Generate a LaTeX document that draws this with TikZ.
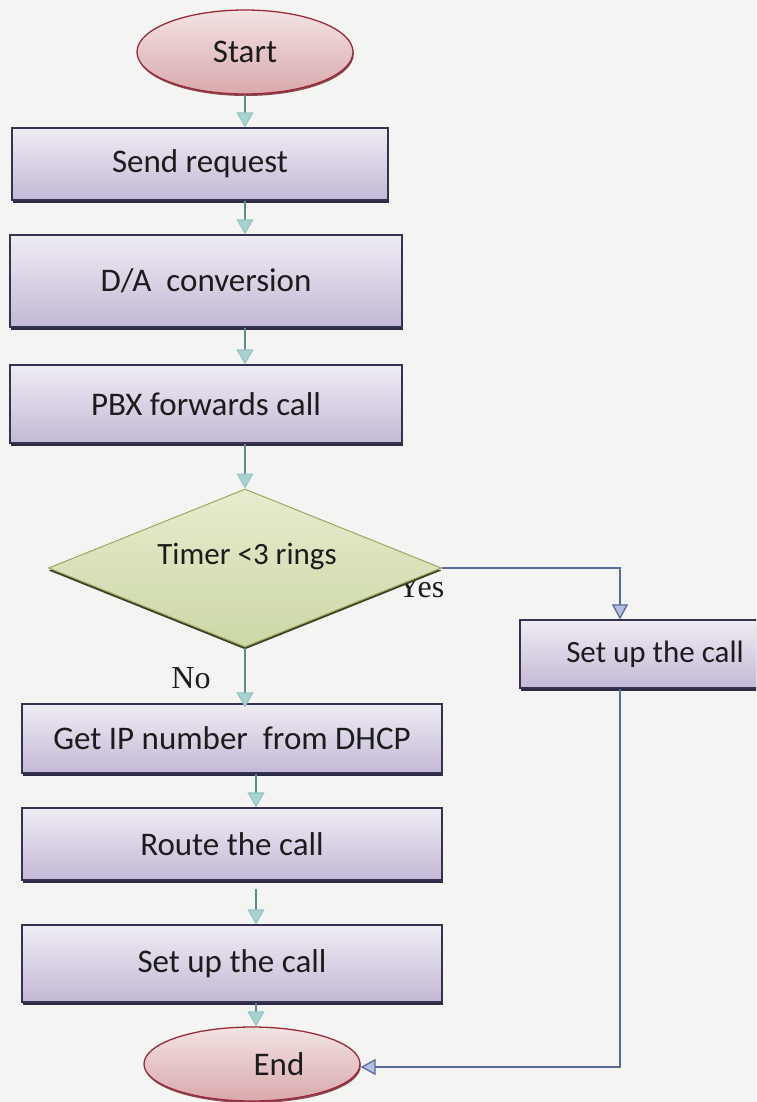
\documentclass[tikz,border=0pt]{standalone}
\usepackage{fontspec}
\setmainfont{Carlito}
\newfontfamily\labelserif{Liberation Serif}
\usetikzlibrary{shapes.geometric,arrows.meta,shadows,calc}

\definecolor{paper}{HTML}{F4F4F2}
\definecolor{ink}{HTML}{1C1C1C}
\definecolor{boxline}{HTML}{34324E}
\definecolor{boxtop}{HTML}{EFECF3}
\definecolor{boxbot}{HTML}{C4B8D6}
\definecolor{boxshadow}{HTML}{2E2A44}
\definecolor{ovaltop}{HTML}{F3E3E3}
\definecolor{ovalbot}{HTML}{D9A9AD}
\definecolor{ovalline}{HTML}{9A2A3A}
\definecolor{dectop}{HTML}{E6ECCE}
\definecolor{decbot}{HTML}{CCD7A6}
\definecolor{decline}{HTML}{9AA860}
\definecolor{decshadow}{HTML}{3C4024}
\definecolor{flowline}{HTML}{5E8A8E}
\definecolor{flowhead}{HTML}{A8D2D2}
\definecolor{branchline}{HTML}{5A6A9A}
\definecolor{branchhead}{HTML}{B4C0E2}

\tikzset{
  basefont/.style={font=\fontsize{33}{38}\selectfont, text=ink},
  stepbox/.style={rectangle, inner sep=0pt, draw=boxline, line width=1.2pt,
    top color=boxtop, bottom color=boxbot,
    drop shadow={shadow xshift=1.2pt, shadow yshift=-2.5pt, fill=boxshadow, opacity=1},
    basefont},
  terminal/.style={ellipse, inner sep=0pt, draw=ovalline, line width=1.3pt,
    top color=ovaltop, bottom color=ovalbot,
    drop shadow={shadow xshift=0.8pt, shadow yshift=-2pt, fill=ovalline!70!black, opacity=0.8},
    basefont},
  decision/.style={diamond, inner sep=0pt, draw=decline, line width=1pt,
    top color=dectop, bottom color=decbot,
    drop shadow={shadow xshift=0pt, shadow yshift=-2.5pt, fill=decshadow, opacity=1}},
  flow/.style={draw=flowline, line width=1.1pt,
    -{Triangle[width=17pt,length=15pt,fill=flowhead,color=flowhead!80!flowline]}},
  branch/.style={draw=branchline, line width=1.3pt,
    -{Triangle[width=16pt,length=15pt,fill=branchhead,color=branchline]}},
  answer/.style={font=\labelserif\fontsize{32}{36}\selectfont, text=ink, inner sep=0pt}
}

\begin{document}
\begin{tikzpicture}[x=1pt,y=-1pt]
  \useasboundingbox (0,0) rectangle (756,1102);
  \clip (0,0) rectangle (756,1102);
  \fill[paper] (0,0) rectangle (756,1102);

  % main column
  \node[terminal, minimum width=216pt, minimum height=84pt] (start) at (245,52) {Start};
  \node[stepbox, minimum width=376pt, minimum height=72pt] (send) at (200,164) {Send request};
  \node[stepbox, minimum width=392pt, minimum height=92pt] (da) at (206,281) {D/A\ \ conversion};
  \node[stepbox, minimum width=392pt, minimum height=78pt] (pbx) at (206,404) {PBX forwards call};

  % branch label sits partly under the decision shape
  \node[answer, anchor=base] (yes) at (421,597) {Yes};
  \node[decision, minimum width=393pt, minimum height=158pt] (dec) at (245,568) {};
  \node[font=\fontsize{31}{36}\selectfont, text=ink] (dectext) at (247,556) {Timer <3 rings};
  \node[answer, anchor=base] (no) at (191,688) {No};

  \node[stepbox, minimum width=270pt, minimum height=68pt, font=\fontsize{31}{36}\selectfont] (right) at (655,654) {Set up the call};

  \node[stepbox, minimum width=420pt, minimum height=69pt] (getip) at (232,738.5) {Get IP number\ \ from DHCP};
  \node[stepbox, minimum width=420pt, minimum height=72pt] (route) at (232,844) {Route the call};
  \node[stepbox, minimum width=420pt, minimum height=77pt] (setl) at (232,963.5) {Set up the call};
  \node[terminal, minimum width=216pt, minimum height=74pt] (end) at (252,1064) {\hspace*{54pt}End};

  \coordinate (rx) at (620,600);

  % connectors
  \draw[flow] (start.south) -- (start.south |- send.north);
  \draw[flow] (send.south -| start) -- (da.north -| start);
  \draw[flow] (da.south -| start) -- (pbx.north -| start);
  \draw[flow] (pbx.south -| dec) -- (dec.north);
  \draw[flow] (dec.south) -- ([yshift=-4pt]dec.south |- getip.north);
  \draw[flow] ([xshift=24pt]getip.south) -- ([xshift=24pt]route.north);
  \draw[flow] ([xshift=24pt,yshift=-8pt]route.south) -- ([xshift=24pt]setl.north);
  \draw[flow] ([xshift=24pt]setl.south) -- ([xshift=4pt]end.north);

  \draw[branch] (dec.east) -| (rx |- right.north);
  \draw[branch] (rx |- right.south) |- ([yshift=-3pt]end.east);
\end{tikzpicture}
\end{document}
